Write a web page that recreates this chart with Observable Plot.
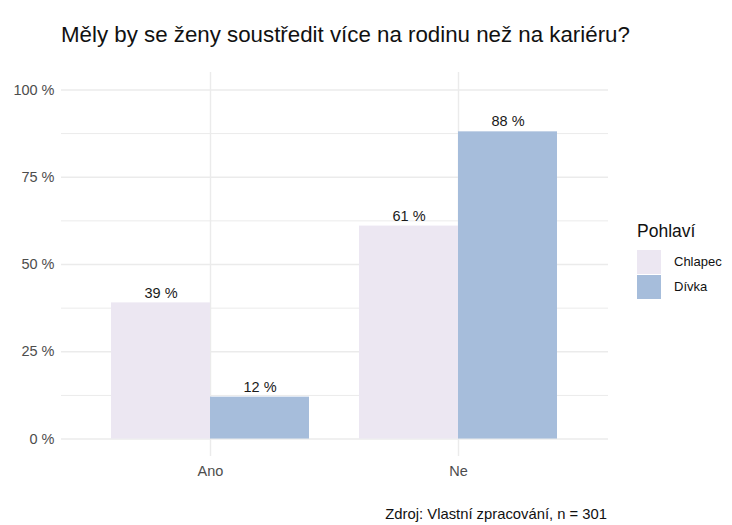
<!DOCTYPE html>
<html>
<head>
<meta charset="utf-8">
<script src="https://cdn.jsdelivr.net/npm/d3@7"></script>
<script src="https://cdn.jsdelivr.net/npm/@observablehq/plot@0.6"></script>
<style>
  body { margin: 0; background: #fff; font-family: "Liberation Sans", Arial, sans-serif; }
  #wrap { position: relative; width: 732px; height: 525px; overflow: hidden; }
  #title { position: absolute; left: 61px; top: 22px; font-size: 22.3px; line-height: 26px; color: #111; white-space: nowrap; }
  .layer { position: absolute; left: 0; top: 60px; }
  #legend { position: absolute; left: 637px; top: 220px; color: #111; }
  #legend .lt { font-size: 17.5px; line-height: 22px; margin-bottom: 7px; }
  #legend .row { display: flex; align-items: center; height: 25px; font-size: 13px; }
  #legend .sw { width: 24px; height: 24px; margin-right: 13px; }
  #caption { position: absolute; right: 125px; top: 506px; font-size: 14.8px; color: #111; white-space: nowrap; }
</style>
</head>
<body>
<div id="wrap">
  <div id="title"></div>
  <div id="bg" class="layer"></div>
  <div id="fg" class="layer"></div>
  <div id="legend"></div>
  <div id="caption"></div>
</div>
<script>
const titleText = "Měly by se ženy soustředit více na rodinu než na kariéru?";
const captionText = "Zdroj: Vlastní zpracování, n = 301";
const legendTitle = "Pohlaví";
const categories = ["Ano", "Ne"];
const genders = ["Chlapec", "Dívka"];
const chlapecValues = [39, 61];
const divkaValues = [12, 88];
const genderColors = ["#ece7f2", "#a6bddb"];
const yTicks = [0, 25, 50, 75, 100];
const yMinor = [12.5, 37.5, 62.5, 87.5];

const data = [];
categories.forEach((c, i) => {
  data.push({cat: c, gender: genders[0], value: chlapecValues[i]});
  data.push({cat: c, gender: genders[1], value: divkaValues[i]});
});

document.getElementById("title").textContent = titleText;
document.getElementById("caption").textContent = captionText;

const leg = document.getElementById("legend");
leg.innerHTML = `<div class="lt">${legendTitle}</div>` +
  genders.map((g, i) => `<div class="row"><div class="sw" style="background:${genderColors[i]}"></div><span>${g}</span></div>`).join("");

const common = {
  width: 732,
  height: 430,
  marginLeft: 61,
  marginRight: 124,
  marginTop: 12,
  marginBottom: 34,
  style: {fontFamily: "Liberation Sans, Arial, sans-serif", fontSize: "14.5px", background: "transparent"},
  y: {domain: [-5, 105], label: null, ticks: yTicks, tickSize: 0, tickPadding: 7, tickFormat: d => d + " %"}
};

// background: grid lines and axes
const bg = Plot.plot({
  ...common,
  x: {type: "band", domain: categories, paddingInner: 0.2, paddingOuter: 0.2, label: null, tickSize: 0, tickPadding: 9},
  marks: [
    Plot.ruleY(yMinor, {stroke: "#ebebeb", strokeWidth: 1}),
    Plot.ruleY(yTicks, {stroke: "#ebebeb", strokeWidth: 1.4}),
    Plot.ruleX(categories, {x: d => d, stroke: "#ebebeb", strokeWidth: 1.4})
  ]
});
bg.querySelectorAll("[aria-label$='tick label'] text, [aria-label$='tick label']").forEach(t => t.setAttribute("fill", "#4d4d4d"));
document.getElementById("bg").appendChild(bg);

// foreground: dodged bars via facets
const fg = Plot.plot({
  ...common,
  y: {...common.y, axis: null},
  fx: {domain: categories, paddingInner: 0.2, paddingOuter: 0.2, axis: null},
  x: {domain: genders, padding: 0, axis: null},
  color: {domain: genders, range: genderColors},
  marks: [
    Plot.barY(data, {fx: "cat", x: "gender", y: "value", fill: "gender", inset: 0}),
    Plot.text(data, {fx: "cat", x: "gender", y: "value", text: d => d.value + " %", dy: -10, fill: "#1a1a1a", fontSize: 14.5})
  ]
});
document.getElementById("fg").appendChild(fg);
</script>
</body>
</html>
